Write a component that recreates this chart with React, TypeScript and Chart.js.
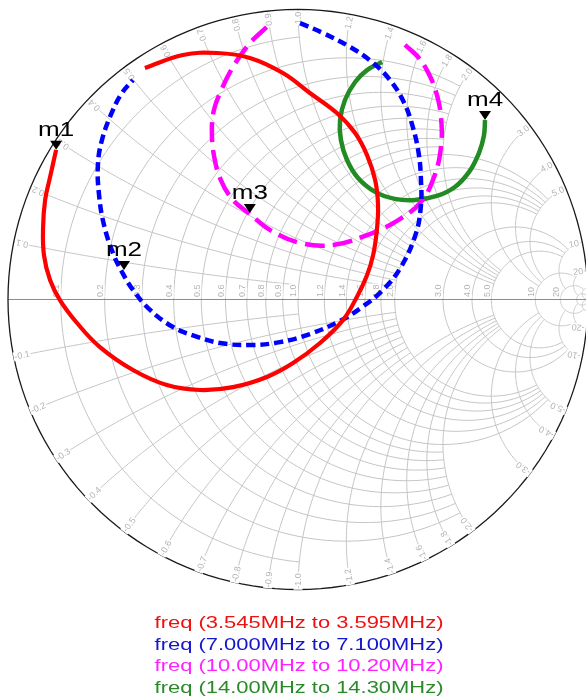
import React, { useEffect, useRef } from "react";
import { Chart, registerables } from "chart.js";

Chart.register(...registerables);

const redRe = [-0.528, -0.397, -0.279, -0.166, -0.052, 0.041, 0.134, 0.197, 0.238, 0.266, 0.276, 0.272, 0.259, 0.238, 0.203, 0.155, 0.076, -0.017, -0.107, -0.224, -0.338, -0.452, -0.569, -0.683, -0.762, -0.821, -0.855, -0.876, -0.879, -0.872, -0.855, -0.834];
const redIm = [0.798, 0.843, 0.85, 0.833, 0.781, 0.712, 0.643, 0.574, 0.498, 0.412, 0.326, 0.24, 0.153, 0.084, 0.009, -0.071, -0.15, -0.219, -0.267, -0.302, -0.312, -0.295, -0.243, -0.164, -0.081, -0.002, 0.067, 0.153, 0.25, 0.343, 0.422, 0.516];

const blueRe = [0.007, 0.086, 0.179, 0.255, 0.317, 0.366, 0.397, 0.417, 0.424, 0.424, 0.407, 0.355, 0.293, 0.221, 0.145, 0.041, -0.062, -0.166, -0.269, -0.355, -0.431, -0.51, -0.569, -0.607, -0.638, -0.669, -0.686, -0.69, -0.676, -0.641, -0.607, -0.569];
const blueIm = [0.953, 0.919, 0.871, 0.819, 0.757, 0.678, 0.591, 0.498, 0.412, 0.326, 0.229, 0.112, 0.033, -0.026, -0.074, -0.119, -0.147, -0.157, -0.15, -0.126, -0.095, -0.036, 0.033, 0.095, 0.16, 0.257, 0.36, 0.464, 0.55, 0.647, 0.712, 0.757];

const magentaRe = [0.369, 0.414, 0.448, 0.476, 0.493, 0.493, 0.469, 0.421, 0.334, 0.238, 0.121, 0.007, -0.097, -0.166, -0.224, -0.266, -0.29, -0.297, -0.29, -0.269, -0.224, -0.166, -0.107];
const magentaIm = [0.878, 0.836, 0.784, 0.716, 0.629, 0.526, 0.422, 0.333, 0.267, 0.222, 0.188, 0.195, 0.24, 0.295, 0.343, 0.412, 0.498, 0.584, 0.653, 0.712, 0.802, 0.884, 0.94];

const greenRe = [0.29, 0.238, 0.197, 0.162, 0.145, 0.148, 0.169, 0.207, 0.266, 0.334, 0.403, 0.479, 0.541, 0.59, 0.624, 0.641, 0.645];
const greenIm = [0.819, 0.791, 0.75, 0.688, 0.619, 0.55, 0.481, 0.419, 0.371, 0.347, 0.343, 0.357, 0.388, 0.44, 0.505, 0.564, 0.619];

const markerNames = ["m1", "m2", "m3", "m4"];
const markerRe = [-0.834, -0.6, -0.166, 0.645];
const markerIm = [0.516, 0.102, 0.298, 0.619];

const legendLabels = [
  "freq (3.545MHz to 3.595MHz)",
  "freq (7.000MHz to 7.100MHz)",
  "freq (10.00MHz to 10.20MHz)",
  "freq (14.00MHz to 14.30MHz)",
];

// Smith grid: circle values and the extent to which each one is drawn
const gridValues = [0.1, 0.2, 0.3, 0.4, 0.5, 0.6, 0.7, 0.8, 0.9, 1.0, 1.2, 1.4, 1.6, 1.8, 2.0, 3, 4, 5, 10, 20, 50];
const gridLimits = [1, 2, 2, 2, 2, 2, 2, 2, 2, 5, 5, 5, 5, 5, 5, 10, 10, 10, 20, 50, Infinity];
const gridLabels = [0.1, 0.2, 0.3, 0.4, 0.5, 0.6, 0.7, 0.8, 0.9, 1.0, 1.2, 1.4, 1.6, 1.8, 2.0, 3, 4, 5, 10, 20];

// ---- styles ----
const RED = "#ff0000";
const BLUE = "#0000ff";
const MAGENTA = "#ff00ff";
const GREEN = "#238b23";
const legendColors = ["#ee1111", "#1515cc", "#ff22ff", "#2a8a2a"];
const GRID = "#c4c4c4";
const LABEL = "#b4b4b4";
const FONT = "'Liberation Sans', Arial, sans-serif";

function gam(r: number, x: number): [number, number] {
  const den = (r + 1) * (r + 1) + x * x;
  return [(r * r - 1 + x * x) / den, (2 * x) / den];
}

function fmt(v: number): string {
  return v >= 10 ? String(v) : v.toFixed(1);
}

const smithPlugin = {
  id: "smithGrid",
  beforeDatasetsDraw(chart: any) {
    const ctx: CanvasRenderingContext2D = chart.ctx;
    const xs = chart.scales.x;
    const ys = chart.scales.y;
    const px = (g: number[]) => [xs.getPixelForValue(g[0]), ys.getPixelForValue(g[1])];
    const arc = (cx: number, cy: number, rad: number, a0: number, a1: number) => {
      const n = 160;
      ctx.beginPath();
      for (let i = 0; i <= n; i++) {
        const a = a0 + ((a1 - a0) * i) / n;
        const p = px([cx + rad * Math.cos(a), cy + rad * Math.sin(a)]);
        if (i === 0) ctx.moveTo(p[0], p[1]);
        else ctx.lineTo(p[0], p[1]);
      }
      ctx.stroke();
    };
    const norm = (a: number) => (a < 0 ? a + 2 * Math.PI : a);

    ctx.save();
    ctx.lineWidth = 1;
    ctx.strokeStyle = GRID;
    gridValues.forEach((v, i) => {
      const lim = gridLimits[i];
      // resistance circle
      const c = v / (1 + v);
      const rad = 1 / (1 + v);
      let a = 0;
      if (isFinite(lim)) {
        const g = gam(v, lim);
        a = Math.atan2(g[1], g[0] - c);
      }
      arc(c, 0, rad, a, 2 * Math.PI - a);
      // reactance arcs
      for (const s of [1, -1]) {
        const xv = s * v;
        const cy = 1 / xv;
        const r = 1 / v;
        const g0 = gam(0, xv);
        const g1 = isFinite(lim) ? gam(lim, xv) : [1, 0];
        let a0 = Math.atan2(s * (g0[1] - cy), g0[0] - 1);
        let a1 = Math.atan2(s * (g1[1] - cy), g1[0] - 1);
        a0 = norm(a0);
        a1 = norm(a1);
        // draw in mirrored frame for negative values
        const n = 120;
        ctx.beginPath();
        for (let k = 0; k <= n; k++) {
          const t = a0 + ((a1 - a0) * k) / n;
          const gx = 1 + r * Math.cos(t);
          const gy = cy + s * r * Math.sin(t);
          const p = px([gx, gy]);
          if (k === 0) ctx.moveTo(p[0], p[1]);
          else ctx.lineTo(p[0], p[1]);
        }
        ctx.stroke();
      }
    });

    // real axis
    const l = px([-1, 0]);
    const rgt = px([1, 0]);
    ctx.strokeStyle = "#8c8c8c";
    ctx.beginPath();
    ctx.moveTo(l[0], l[1]);
    ctx.lineTo(rgt[0], rgt[1]);
    ctx.stroke();

    // outer circle
    ctx.strokeStyle = "#1a1a1a";
    ctx.lineWidth = 1.3;
    arc(0, 0, 1, 0, 2 * Math.PI);

    // labels
    const C = px([0, 0]);
    ctx.font = "9px " + FONT;
    ctx.textAlign = "center";
    ctx.textBaseline = "middle";
    const lab = (text: string, x: number, y: number, ang: number) => {
      ctx.save();
      ctx.translate(x, y);
      ctx.rotate(ang);
      const w = ctx.measureText(text).width;
      ctx.fillStyle = "#ffffff";
      ctx.fillRect(-w / 2 - 1, -4.5, w + 2, 9);
      ctx.fillStyle = LABEL;
      ctx.fillText(text, 0, 0.5);
      ctx.restore();
    };
    gridLabels.forEach((v) => {
      const t = fmt(v);
      const w = ctx.measureText(t).width;
      const p = px(gam(v, 0));
      lab(t, p[0] - 4.5, p[1] - 2.5 - w / 2, -Math.PI / 2);
      for (const s of [1, -1]) {
        const e = px(gam(0, s * v));
        const dx = e[0] - C[0];
        const dy = e[1] - C[1];
        const d = Math.hypot(dx, dy);
        const ux = dx / d;
        const uy = dy / d;
        const cx = e[0] - ux * 8.5;
        const cy = e[1] - uy * 8.5;
        const ang = s > 0 ? Math.atan2(uy, ux) : Math.atan2(-uy, -ux);
        lab((s < 0 ? "-" : "") + t, cx, cy, ang);
      }
    });
    ctx.restore();
  },
  afterDatasetsDraw(chart: any) {
    const ctx: CanvasRenderingContext2D = chart.ctx;
    const xs = chart.scales.x;
    const ys = chart.scales.y;
    ctx.save();
    markerNames.forEach((name, i) => {
      const x = xs.getPixelForValue(markerRe[i]);
      const y = ys.getPixelForValue(markerIm[i]);
      ctx.fillStyle = "#000";
      ctx.beginPath();
      ctx.moveTo(x, y);
      ctx.lineTo(x - 6, y - 9);
      ctx.lineTo(x + 6, y - 9);
      ctx.closePath();
      ctx.fill();
      ctx.save();
      ctx.translate(x, y - 14);
      ctx.scale(1.3, 1);
      ctx.font = "20px " + FONT;
      ctx.textAlign = "center";
      ctx.textBaseline = "alphabetic";
      ctx.fillText(name, 0, 0);
      ctx.restore();
    });
    ctx.restore();
  },
  afterDraw(chart: any) {
    const ctx: CanvasRenderingContext2D = chart.ctx;
    ctx.save();
    legendLabels.forEach((t, i) => {
      ctx.save();
      ctx.translate(299, 628 + i * 21.5);
      ctx.scale(1.29, 1);
      ctx.font = "17px " + FONT;
      ctx.textAlign = "center";
      ctx.textBaseline = "alphabetic";
      ctx.fillStyle = legendColors[i];
      ctx.fillText(t, 0, 0);
      ctx.restore();
    });
    ctx.restore();
  },
};

function pts(re: number[], im: number[]) {
  return re.map((v, i) => ({ x: v, y: im[i] }));
}

export default function App() {
  const ref = useRef<HTMLCanvasElement | null>(null);
  useEffect(() => {
    if (!ref.current) return;
    const common = { showLine: true, pointRadius: 0, fill: false, tension: 0.4, borderCapStyle: "butt" as const };
    const chart = new Chart(ref.current, {
      type: "scatter",
      data: {
        datasets: [
          { ...common, data: pts(redRe, redIm), borderColor: RED, borderWidth: 4.2 },
          { ...common, data: pts(blueRe, blueIm), borderColor: BLUE, borderWidth: 4.5, borderDash: [9, 5] },
          { ...common, data: pts(magentaRe, magentaIm), borderColor: MAGENTA, borderWidth: 4.5, borderDash: [20, 8] },
          { ...common, data: pts(greenRe, greenIm), borderColor: GREEN, borderWidth: 4.5 },
        ],
      },
      options: {
        responsive: false,
        animation: false,
        events: [],
        layout: { padding: { left: 8, right: 12, top: 9.5, bottom: 110.5 } },
        scales: {
          x: { type: "linear", min: -1, max: 1, display: false },
          y: { type: "linear", min: -1, max: 1, display: false },
        },
        plugins: { legend: { display: false }, tooltip: { enabled: false } },
      },
      plugins: [smithPlugin],
    });
    return () => chart.destroy();
  }, []);
  return (
    <div style={{ position: "fixed", left: 0, top: 0, width: 586, height: 700, overflow: "hidden", background: "#fff" }}>
      <canvas ref={ref} width={600} height={700} style={{ position: "absolute", left: 0, top: 0 }} />
    </div>
  );
}
